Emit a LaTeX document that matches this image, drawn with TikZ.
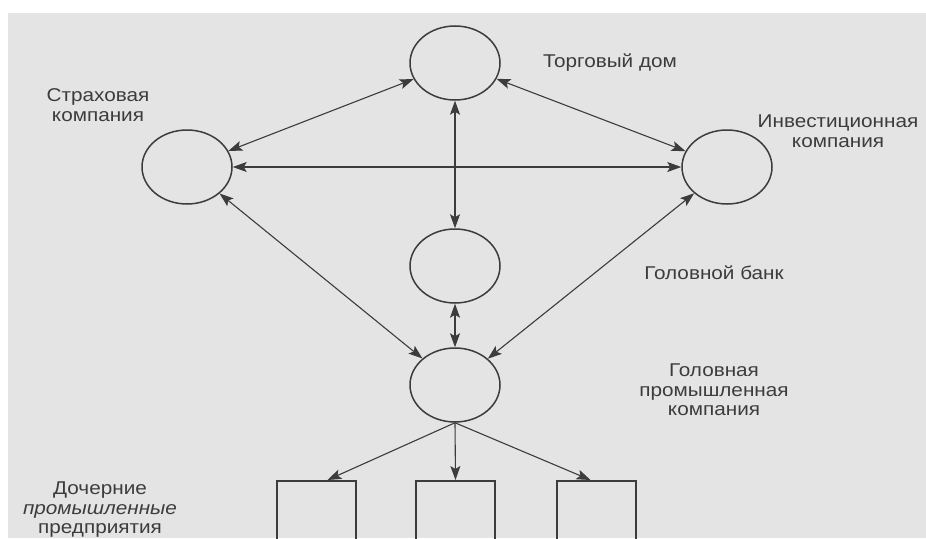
\documentclass[tikz,border=0pt]{standalone}
\usepackage{fontspec}
\setmainfont[FakeStretch=1.12]{Liberation Sans}
\usetikzlibrary{arrows.meta,shapes.geometric,calc}
\definecolor{bg}{RGB}{228,228,228}
\definecolor{ink}{RGB}{60,60,60}
\tikzset{
  org/.style={ellipse, draw=ink, line width=1.5pt, minimum width=90pt, minimum height=74pt, inner sep=0pt},
  box/.style={rectangle, draw=ink, line width=1.5pt, minimum width=79pt, minimum height=80pt, anchor=north, inner sep=0pt},
  tip/.tip={Stealth[length=14pt,width=10pt,inset=3pt]},
  link/.style={draw=ink, line width=1.1pt, tip-tip},
  flow/.style={draw=ink, line width=1.1pt, -tip},
  lbl/.style={text=ink, align=center, inner sep=0pt}
}
\begin{document}
\begin{tikzpicture}[x=1pt,y=-1pt,font=\fontsize{18.5}{19.5}\selectfont]
\useasboundingbox (0,0) rectangle (926,538);
\begin{scope}
\clip (0,0) rectangle (926,538);
\fill[white] (0,0) rectangle (926,538);
\fill[bg] (8,13) rectangle (926,538);
\node[org] (t) at (455,63) {};
\node[org] (s) at (187,167) {};
\node[org] (i) at (727,167) {};
\node[org] (b) at (455,266) {};
\node[org] (p) at (455,385) {};
\node[box] (b1) at (316.5,480) {};
\node[box] (b2) at (455.5,480) {};
\node[box] (b3) at (596.5,480) {};
\node[lbl] (lt) at (610,63) {Торговый дом};
\node[lbl] (ls) at (98,105) {Страховая\\компания};
\node[lbl] (li) at (838,131) {Инвестиционная\\компания};
\node[lbl] (lb) at (714,273) {Головной банк};
\node[lbl] (lp) at (714,390) {Головная\\промышленная\\компания};
\node[lbl] (ld) at (100,510) {Дочерние\\\textit{промышленные}\\предприятия};
\draw[link] (t) -- (s);
\draw[link] (t) -- (i);
\draw[link] (t) -- (b);
\draw[link] (s) -- (i);
\draw[link] (b) -- (p);
\draw[link] (s) -- (p);
\draw[link] (i) -- (p);
\draw[flow] (p.south) -- ([xshift=11pt]b1.north);
\draw[flow] (p.south) -- (b2.north);
\draw[flow] (p.south) -- ([xshift=-6pt]b3.north);
\end{scope}
\end{tikzpicture}
\end{document}
